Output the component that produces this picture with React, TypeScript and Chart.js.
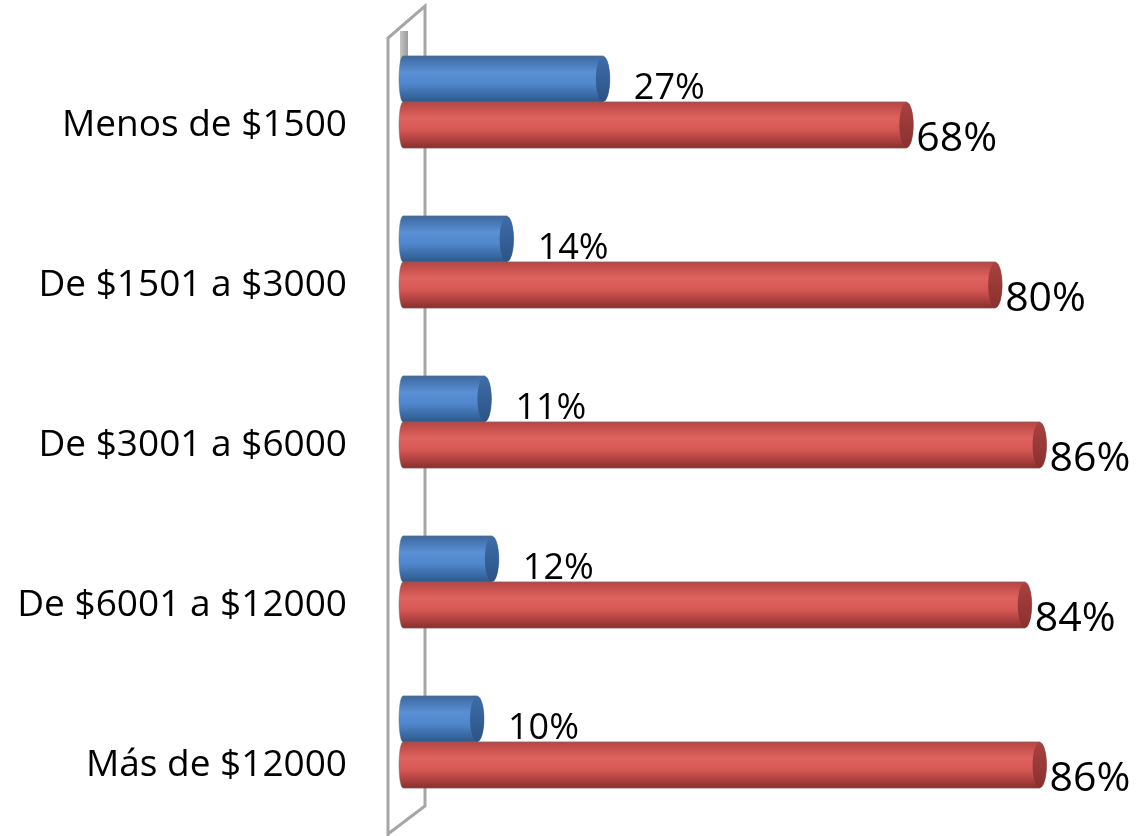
import React, { useEffect, useRef } from "react";
import { Chart, registerables } from "chart.js";

Chart.register(...registerables);

const categories = [
  "Menos de $1500",
  "De $1501 a $3000",
  "De $3001 a $6000",
  "De $6001 a $12000",
  "Más de $12000",
];
const blueValues = [27, 14, 11, 12, 10];
const redValues = [68, 80, 86, 84, 86];

const FONT = '"Open Sans", "Noto Sans", sans-serif';

const cylinderPlugin = {
  id: "cylinder",
  beforeDatasetsDraw(chart: any) {
    const { ctx, chartArea } = chart;
    const left = chartArea.left;
    const front = left - 15;
    const back = left + 22;
    ctx.save();
    const g = ctx.createLinearGradient(left - 3, 0, left + 5, 0);
    g.addColorStop(0, "#c4c4c4");
    g.addColorStop(1, "#9c9c9c");
    ctx.fillStyle = g;
    ctx.fillRect(left - 3, 31, 8, 40);
    ctx.strokeStyle = "#a6a6a6";
    ctx.lineWidth = 3;
    ctx.beginPath();
    ctx.moveTo(front, 836);
    ctx.lineTo(front, 38);
    ctx.lineTo(back, 6);
    ctx.lineTo(back, 806);
    ctx.lineTo(front, 834);
    ctx.stroke();
    ctx.restore();
  },
  afterDatasetsDraw(chart: any) {
    const { ctx } = chart;
    const palettes = [
      {
        stops: ["#3b68a0", "#5a8fd4", "#5088cd", "#2d5789"],
        cap: ["#3e6da8", "#2b5386"],
        font: 36,
        dx: 24,
        dy: -3,
      },
      {
        stops: ["#b54543", "#e0625f", "#d65855", "#8a2f2d"],
        cap: ["#a84240", "#8a302e"],
        font: 41,
        dx: 3,
        dy: 3,
      },
    ];
    chart.data.datasets.forEach((ds: any, di: number) => {
      const meta = chart.getDatasetMeta(di);
      const p = palettes[di];
      meta.data.forEach((el: any, i: number) => {
        const x = el.x;
        const base = el.base;
        const y = el.y;
        const h = el.height;
        const top = y - h / 2;
        const bot = y + h / 2;
        const rx = 7;
        ctx.save();
        const grad = ctx.createLinearGradient(0, top, 0, bot);
        grad.addColorStop(0, p.stops[0]);
        grad.addColorStop(0.35, p.stops[1]);
        grad.addColorStop(0.6, p.stops[2]);
        grad.addColorStop(1, p.stops[3]);
        ctx.beginPath();
        ctx.moveTo(base, top);
        ctx.lineTo(x, top);
        ctx.ellipse(x, y, rx, h / 2, 0, -Math.PI / 2, Math.PI / 2);
        ctx.lineTo(base, bot);
        ctx.ellipse(base, y, 4, h / 2, 0, Math.PI / 2, (3 * Math.PI) / 2);
        ctx.closePath();
        ctx.fillStyle = grad;
        ctx.fill();
        ctx.strokeStyle = "rgba(110,110,110,0.45)";
        ctx.lineWidth = 1;
        ctx.stroke();
        const cg = ctx.createLinearGradient(0, top, 0, bot);
        cg.addColorStop(0, p.cap[0]);
        cg.addColorStop(1, p.cap[1]);
        ctx.beginPath();
        ctx.ellipse(x, y, rx, h / 2 - 0.5, 0, 0, Math.PI * 2);
        ctx.fillStyle = cg;
        ctx.fill();
        ctx.fillStyle = "#000";
        ctx.font = `${p.font}px ${FONT}`;
        ctx.textAlign = "left";
        ctx.textBaseline = "alphabetic";
        ctx.fillText(`${ds.data[i]}%`, x + rx + p.dx, bot + p.dy);
        ctx.restore();
      });
    });
  },
};

export default function App() {
  const ref = useRef<HTMLCanvasElement>(null);
  useEffect(() => {
    document.body.style.margin = "0";
    let chart: Chart | null = null;
    let cancelled = false;
    const make = () => {
      if (cancelled || !ref.current) return;
      chart = new Chart(ref.current, {
        type: "bar",
        data: {
          labels: categories,
          datasets: [
            { label: "A", data: blueValues, backgroundColor: "#4f81bd", barThickness: 46 },
            { label: "B", data: redValues, backgroundColor: "#c0504d", barThickness: 46 },
          ],
        },
        options: {
          indexAxis: "y",
          responsive: false,
          animation: false,
          layout: { padding: { top: 22, bottom: 14, left: 0, right: 17 } },
          plugins: { legend: { display: false }, tooltip: { enabled: false } },
          scales: {
            x: { display: false, min: 0, max: 97 },
            y: {
              afterFit: (s: any) => {
                s.width = 403;
                s.paddingTop = 0;
                s.paddingBottom = 0;
              },
              grid: {
                display: true,
                drawOnChartArea: false,
                drawTicks: true,
                tickLength: 56,
                color: "rgba(0,0,0,0)",
              },
              border: { display: false },
              ticks: {
                color: "#000",
                font: { family: FONT, size: 37 },
                padding: 0,
                labelOffset: 23,
              },
            },
          },
        },
        plugins: [cylinderPlugin],
      } as any);
    };
    const fontsAny: any = (document as any).fonts;
    if (fontsAny && fontsAny.load) {
      Promise.all([
        fontsAny.load('37px "Open Sans"'),
        fontsAny.load('41px "Open Sans"'),
      ]).then(make, make);
    } else make();
    return () => {
      cancelled = true;
      if (chart) chart.destroy();
    };
  }, []);
  return (
    <div style={{ width: 1138, height: 836 }}>
      <canvas ref={ref} width={1138} height={836} />
    </div>
  );
}
